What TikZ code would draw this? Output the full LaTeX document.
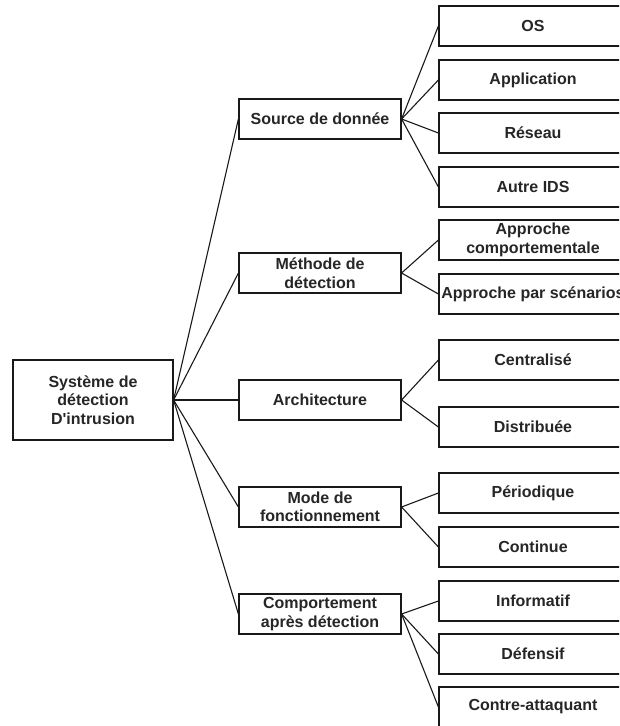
\documentclass[tikz,border=0pt]{standalone}
\usepackage{fontspec}
\setmainfont{Liberation Sans}
\begin{document}
\begin{tikzpicture}[x=1pt,y=-1pt,
  box/.style={draw=black!90, line width=1.2pt, fill=white, inner sep=0pt,
    align=center, font=\fontsize{16}{18.5}\selectfont\bfseries, text=black!85},
  rootbox/.style={box, minimum width=160pt, minimum height=80pt},
  catbox/.style={box, minimum width=162pt, minimum height=40pt},
  leafbox/.style={box, minimum width=188pt, minimum height=40pt},
  link/.style={line width=1.1pt, draw=black!90}]
\useasboundingbox (0,0) rectangle (619,726);
\clip (0,0) rectangle (619,726);

% root
\node[rootbox] (ids) at (93,400) {Système de\\détection\\D\textquotesingle intrusion};

% categories
\node[catbox] (src)  at (320,119) {Source de donnée};
\node[catbox] (meth) at (320,273) {Méthode de\\détection};
\node[catbox] (arch) at (320,400) {Architecture};
\node[catbox] (mode) at (320,507) {Mode de\\fonctionnement};
\node[catbox] (comp) at (320,614) {Comportement\\après détection};

% leaves
\node[leafbox] (os)   at (533,26)  {OS};
\node[leafbox] (app)  at (533,80)  {Application};
\node[leafbox] (net)  at (533,133) {Réseau};
\node[leafbox] (oids) at (533,187) {Autre IDS};
\node[leafbox] (beh)  at (533,240) {Approche\\comportementale};
\node[leafbox] (scen) at (533,294) {Approche par scénarios};
\node[leafbox] (cent) at (533,360) {Centralisé};
\node[leafbox] (dist) at (533,427) {Distribuée};
\node[leafbox] (per)  at (533,493) {Périodique};
\node[leafbox] (cont) at (533,547) {Continue};
\node[leafbox] (info) at (533,601) {Informatif};
\node[leafbox] (def)  at (533,654) {Défensif};
\node[leafbox] (ctr)  at (533,707) {Contre-attaquant};

% connectors
\foreach \c in {src,meth,arch,mode,comp}
  \draw[link] (ids.east) -- (\c.west);
\foreach \l in {os,app,net,oids}
  \draw[link] (src.east) -- (\l.west);
\foreach \l in {beh,scen}
  \draw[link] (meth.east) -- (\l.west);
\foreach \l in {cent,dist}
  \draw[link] (arch.east) -- (\l.west);
\foreach \l in {per,cont}
  \draw[link] (mode.east) -- (\l.west);
\foreach \l in {info,def,ctr}
  \draw[link] (comp.east) -- (\l.west);
\end{tikzpicture}
\end{document}
